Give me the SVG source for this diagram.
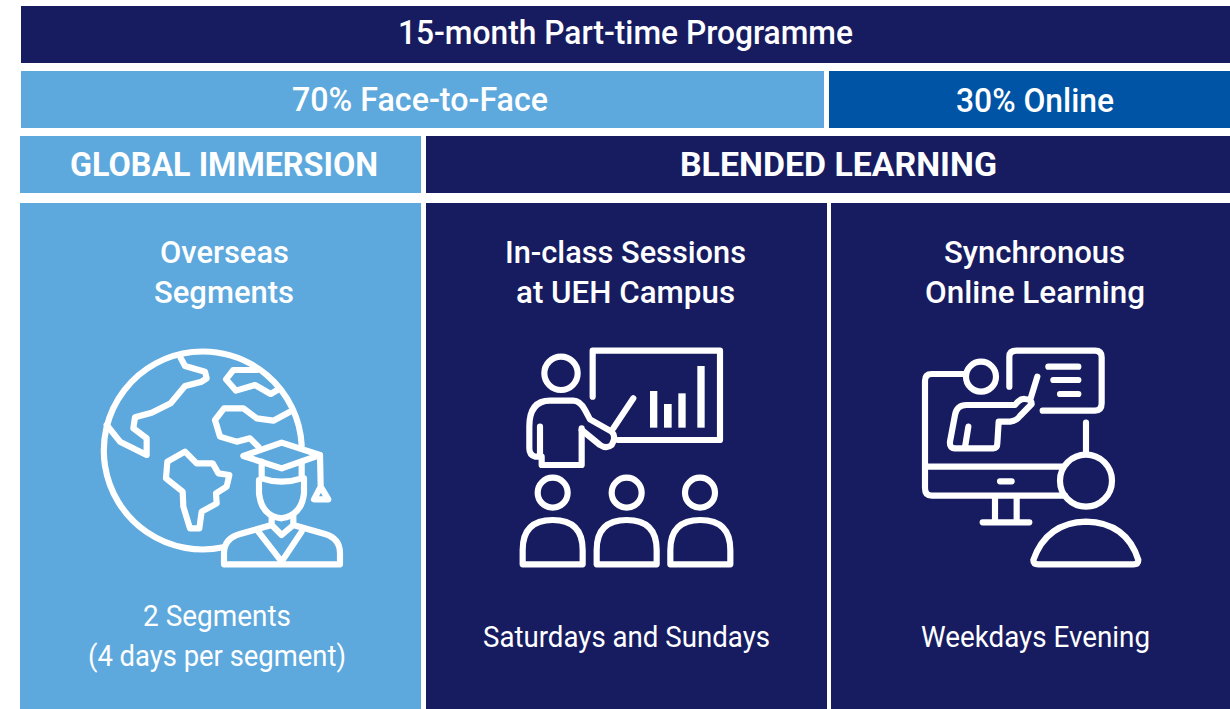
<svg xmlns="http://www.w3.org/2000/svg" width="1230" height="709" viewBox="0 0 1230 709">
<style>
.d{fill:#171c61}.l{fill:#5da8dd}.m{fill:#0054a6}
text{fill:#fff;font-family:"Roboto","Liberation Sans",sans-serif;text-anchor:start}
.h{font-size:33px;font-weight:500}.b{font-size:33px;font-weight:700}.s{font-size:32px;font-weight:500}.r{font-size:30px;font-weight:400}
.i{fill:none;stroke:#fff;stroke-width:18.5;stroke-linejoin:round;stroke-linecap:round}
</style>
<rect width="1230" height="709" fill="#fff"/>
<g id="programme"><rect class="d" x="21" y="6" width="1209" height="57"/><text class="h" x="398" y="44" textLength="455" lengthAdjust="spacingAndGlyphs">15-month Part-time Programme</text></g>
<g id="face-to-face"><rect class="l" x="21" y="71" width="803" height="57"/><text class="h" x="292" y="111" textLength="256" lengthAdjust="spacingAndGlyphs">70% Face-to-Face</text></g>
<g id="online"><rect class="m" x="829" y="71" width="401" height="57"/><text class="h" x="956" y="112" textLength="158" lengthAdjust="spacingAndGlyphs">30% Online</text></g>
<g id="global-immersion"><rect class="l" x="20" y="136" width="401" height="57"/><text class="b" x="70" y="176" textLength="308" lengthAdjust="spacingAndGlyphs">GLOBAL IMMERSION</text></g>
<g id="blended-learning"><rect class="d" x="426" y="136" width="804" height="57"/><text class="b" x="680" y="176" textLength="317" lengthAdjust="spacingAndGlyphs">BLENDED LEARNING</text></g>
<g id="overseas">
<rect class="l" x="20" y="203" width="401" height="506"/>
<text class="s" x="160" y="263" textLength="129" lengthAdjust="spacingAndGlyphs">Overseas</text>
<text class="s" x="154" y="303" textLength="140" lengthAdjust="spacingAndGlyphs">Segments</text>
<g class="i" transform="translate(80 330) scale(.33333)">
<path d="M665 345A297 297 0 1 0 430 652"/>
<path d="M300 80L315 108L375 125L380 145L365 155L315 168L272 220L215 248L165 262L160 295L200 325L200 375L120 335L80 285"/>
<path d="M530 120L460 120L438 148L468 182L525 165L572 192L592 180"/>
<path d="M630 245L580 272L530 265L490 235L432 235L405 270L420 320L470 335L510 325L535 350"/>
<path d="M315 365L262 395L258 445L308 485L310 530L330 595L358 595L365 545L410 520L408 490L440 470L448 435L415 430L398 400L350 400Z"/>
<path d="M605 338L490 378L605 415L720 375Z"/>
<path d="M720 375L722 465M722 470L702 508L745 508Z"/>
<path d="M545 395L545 445Q605 465 665 445L665 395"/>
<path d="M537 450L537 490Q545 560 605 565Q665 555 672 490L672 445"/>
<path d="M575 560L575 585L605 615L640 585L640 555"/>
<path d="M575 585L480 612Q432 625 432 670L432 703L780 703L780 670Q780 625 735 612L640 585"/>
<path d="M535 605L605 695L665 605"/>
</g>
<text class="r" x="143" y="626" textLength="148" lengthAdjust="spacingAndGlyphs">2 Segments</text>
<text class="r" x="88" y="666" textLength="258" lengthAdjust="spacingAndGlyphs">(4 days per segment)</text>
</g>
<g id="in-class">
<rect class="d" x="426" y="203" width="401" height="506"/>
<text class="s" x="505" y="263" textLength="241" lengthAdjust="spacingAndGlyphs">In-class Sessions</text>
<text class="s" x="516" y="303" textLength="219" lengthAdjust="spacingAndGlyphs">at UEH Campus</text>
<g class="i" transform="translate(500 330) scale(.33333)">
<circle cx="183" cy="130" r="50"/>
<path d="M278 200L278 62L660 62L660 330L355 330"/>
<path d="M340 295L400 205"/>
<path d="M120 290L120 380L105 380Q88 375 88 355L88 290Q88 212 150 212L220 212Q240 212 255 240L270 268L335 305Q350 320 335 345Q320 358 300 345L245 300"/>
<path d="M245 295L245 405L125 405L125 380"/>
<g style="fill:#fff;stroke:none"><rect x="450" y="183" width="22" height="110"/><rect x="492" y="222" width="23" height="71"/><rect x="535" y="190" width="22" height="103"/><rect x="592" y="108" width="22" height="185"/></g>
<circle cx="158" cy="488" r="45"/><circle cx="380" cy="488" r="45"/><circle cx="600" cy="488" r="45"/>
<path d="M68 703L68 660Q68 570 158 570Q248 570 248 660L248 703Z"/>
<path d="M290 703L290 660Q290 570 380 570Q470 570 470 660L470 703Z"/>
<path d="M511 703L511 660Q511 570 601 570Q691 570 691 660L691 703Z"/>
</g>
<text class="r" x="483" y="647" textLength="287" lengthAdjust="spacingAndGlyphs">Saturdays and Sundays</text>
</g>
<g id="synchronous">
<rect class="d" x="831" y="203" width="399" height="506"/>
<text class="s" x="944" y="263" textLength="181" lengthAdjust="spacingAndGlyphs">Synchronous</text>
<text class="s" x="925" y="303" textLength="220" lengthAdjust="spacingAndGlyphs">Online Learning</text>
<g class="i" transform="translate(900 330) scale(.33333)">
<path d="M195 132L95 132Q75 132 75 152L75 475Q75 497 95 497L495 497"/>
<path d="M80 410L490 410"/>
<circle cx="243" cy="140" r="45"/>
<path d="M328 170L328 80Q328 62 350 62L585 62Q605 62 605 82L605 220Q605 242 585 242L428 242"/>
<path d="M445 110L535 110M460 150L535 150M480 192L535 192"/>
<path d="M412 140L392 205"/>
<path d="M205 290L195 352"/>
<path d="M375 207Q360 205 345 225L200 225Q170 225 165 255L150 335Q148 355 165 355L280 355Q292 355 292 340L296 275L330 275Q350 272 360 258L395 222Q395 208 375 207Z"/>
<circle cx="558" cy="452" r="78"/>
<path d="M558 278L558 370"/>
<path d="M285 500L285 575M350 500L350 575M248 577L388 577M300 454L335 454"/>
<path d="M400 690Q440 578 558 575Q680 578 715 690Q715 703 700 703L415 703Q400 703 400 690Z"/>
</g>
<text class="r" x="921" y="647" textLength="229" lengthAdjust="spacingAndGlyphs">Weekdays Evening</text>
</g>
</svg>
